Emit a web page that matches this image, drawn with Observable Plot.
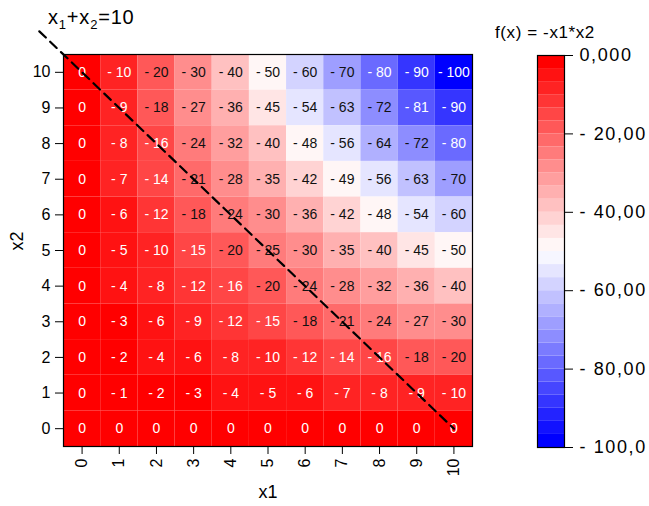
<!DOCTYPE html>
<html><head><meta charset="utf-8">
<script src="https://cdn.jsdelivr.net/npm/d3@7"></script>
<script src="https://cdn.jsdelivr.net/npm/@observablehq/plot@0.6"></script>
<style>
body{margin:0;background:#fff;font-family:"Liberation Sans",Arial,sans-serif;}
#wrap{position:relative;width:649px;height:506px;overflow:hidden;}
#main{position:absolute;left:0;top:0;}
#leg{position:absolute;left:480px;top:0;}
#eq{position:absolute;left:48px;top:6px;font-size:20px;line-height:22px;color:#000;letter-spacing:0.8px;}
#eq sub{font-size:13px;vertical-align:-5px;line-height:0;}
#ltitle{position:absolute;left:495px;top:23px;font-size:17px;line-height:19px;color:#000;letter-spacing:0.6px;}
</style></head>
<body>
<div id="wrap">
<div id="main"></div>
<div id="leg"></div>
<div id="eq">x<sub>1</sub>+x<sub>2</sub>=10</div>
<div id="ltitle">f(x) = -x1*x2</div>
</div>
<script>
// categories
const x1Values = [0,1,2,3,4,5,6,7,8,9,10];
const x2Values = [10,9,8,7,6,5,4,3,2,1,0]; // rows, top to bottom
// cell values f(x), one row per x2 value
const fValues = [
  [0,-10,-20,-30,-40,-50,-60,-70,-80,-90,-100],
  [0,-9,-18,-27,-36,-45,-54,-63,-72,-81,-90],
  [0,-8,-16,-24,-32,-40,-48,-56,-64,-72,-80],
  [0,-7,-14,-21,-28,-35,-42,-49,-56,-63,-70],
  [0,-6,-12,-18,-24,-30,-36,-42,-48,-54,-60],
  [0,-5,-10,-15,-20,-25,-30,-35,-40,-45,-50],
  [0,-4,-8,-12,-16,-20,-24,-28,-32,-36,-40],
  [0,-3,-6,-9,-12,-15,-18,-21,-24,-27,-30],
  [0,-2,-4,-6,-8,-10,-12,-14,-16,-18,-20],
  [0,-1,-2,-3,-4,-5,-6,-7,-8,-9,-10],
  [0,0,0,0,0,0,0,0,0,0,0]
];
// dashed reference line x1 + x2 = 10
const lineX1 = [-1.15, 10];
const lineSum = 10;
// legend
const legendTicks = [0,-20,-40,-60,-80,-100];
const legendLabels = ["0,000","- 20,00","- 40,00","- 60,00","- 80,00","- 100,0"];
const colorDomain = [-100, 0];
const nBins = 30;

const cells = [];
x2Values.forEach((x2, r) => x1Values.forEach((x1, c) => cells.push({x1, x2, f: fValues[r][c]})));
const linePts = lineX1.map(x => ({x, y: lineSum - x}));

const step = (colorDomain[1]-colorDomain[0]) / nBins;
const thresholds = d3.range(1, nBins).map(i => colorDomain[0] + i*step);
const colors = d3.quantize(d3.piecewise(d3.interpolateRgb, ["#0000ff","#ffffff","#ff0000"]), nBins);
const colorScale = {type: "threshold", domain: thresholds, range: colors};

const fmt = v => v === 0 ? "0" : "- " + Math.abs(v);
const isWhiteText = d => d.f >= -16 || d.f <= -80;

const main = Plot.plot({
  width: 490, height: 506,
  marginLeft: 63, marginRight: 18, marginTop: 54, marginBottom: 60,
  style: {fontFamily: "'Liberation Sans', Arial, sans-serif", fontSize: "16px", color: "#000", background: "transparent", overflow: "visible"},
  x: {domain: [-0.5, 10.5], ticks: x1Values, tickSize: 8, tickPadding: 4, tickRotate: -90, tickFormat: d => String(d), label: null},
  y: {domain: [-0.5, 10.5], ticks: x2Values, tickSize: 8, tickPadding: 5, tickFormat: d => String(d), label: null},
  color: colorScale,
  marks: [
    Plot.rect(cells, {x1: d => d.x1 - 0.5, x2: d => d.x1 + 0.5, y1: d => d.x2 - 0.5, y2: d => d.x2 + 0.5, fill: "f"}),
    Plot.text(cells.filter(isWhiteText), {x: "x1", y: "x2", text: d => fmt(d.f), fill: "white", fontSize: 14}),
    Plot.text(cells.filter(d => !isWhiteText(d)), {x: "x1", y: "x2", text: d => fmt(d.f), fill: "#111", fontSize: 14}),
    Plot.frame({stroke: "black", strokeWidth: 1.2}),
    Plot.line(linePts, {x: "x", y: "y", stroke: "black", strokeWidth: 2.2, strokeDasharray: "9,6", clip: false}),
    Plot.text(["x1"], {frameAnchor: "bottom", dy: 51, fontSize: 18, fill: "black"}),
    Plot.text(["x2"], {frameAnchor: "left", dx: -46, rotate: -90, fontSize: 18, fill: "black"})
  ]
});
document.getElementById("main").appendChild(main);

const bins = d3.range(nBins).map(i => ({lo: colorDomain[0] + i*step, hi: colorDomain[0] + (i+1)*step, mid: colorDomain[0] + (i+0.5)*step}));
const leg = Plot.plot({
  width: 169, height: 506,
  marginLeft: 57, marginRight: 85, marginTop: 55, marginBottom: 59,
  style: {fontFamily: "'Liberation Sans', Arial, sans-serif", fontSize: "18px", color: "#000", background: "transparent", overflow: "visible", letterSpacing: "1.6px"},
  y: {domain: colorDomain, axis: "right", ticks: legendTicks, tickSize: 8, tickPadding: 7, tickFormat: d => legendLabels[legendTicks.indexOf(d)], label: null},
  color: colorScale,
  marks: [
    Plot.rect(bins, {y1: "lo", y2: "hi", fill: "mid"}),
    Plot.frame({stroke: "black", strokeWidth: 1.2})
  ]
});
document.getElementById("leg").appendChild(leg);
</script>
</body></html>
